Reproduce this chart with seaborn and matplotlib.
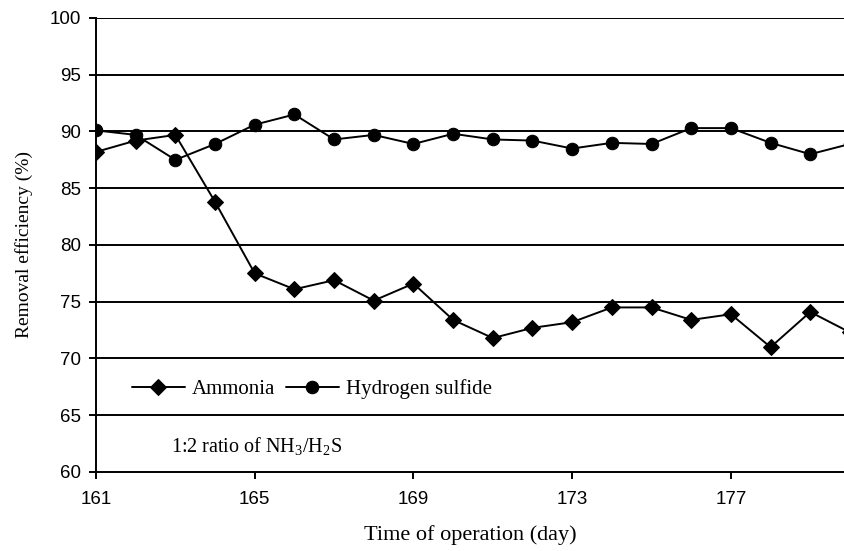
import pandas as pd
import matplotlib
matplotlib.use("Agg")
import matplotlib.pyplot as plt
import seaborn as sns

# Datos
dias = [161, 162, 163, 164, 165, 166, 167, 168, 169, 170,
        171, 172, 173, 174, 175, 176, 177, 178, 179, 180]
amonio = [88.2, 89.2, 89.7, 83.8, 77.5, 76.1, 76.9, 75.1, 76.6, 73.4,
          71.8, 72.7, 73.2, 74.5, 74.5, 73.4, 73.9, 71.0, 74.1, 72.3]
sulfuro = [90.1, 89.7, 87.5, 88.9, 90.6, 91.5, 89.3, 89.7, 88.9, 89.8,
           89.3, 89.2, 88.5, 89.0, 88.9, 90.3, 90.3, 89.0, 88.0, 88.9]
ticks_x = [161, 165, 169, 173, 177]
ticks_y = [60, 65, 70, 75, 80, 85, 90, 95, 100]

sns.set_style("white")
plt.rcParams['font.family'] = ['Liberation Serif', 'DejaVu Serif']
plt.rcParams['mathtext.fontset'] = 'custom'
plt.rcParams['mathtext.rm'] = 'Liberation Serif'
plt.rcParams['mathtext.it'] = 'Liberation Serif:italic'
plt.rcParams['text.color'] = 'black'
plt.rcParams['axes.labelcolor'] = 'black'

df = pd.DataFrame({'dia': dias, 'Ammonia': amonio, 'Hydrogen sulfide': sulfuro})

fig = plt.figure(figsize=(8.44, 5.51), dpi=100)
ax = fig.add_axes([96 / 844, 79 / 551, 748 / 844, 454 / 551])

for y in ticks_y[1:]:
    ax.axhline(y, color='black', lw=1.4, zorder=1)

sns.lineplot(data=df, x='dia', y='Ammonia', ax=ax, color='black', lw=1.4,
             marker='D', markersize=8, markeredgecolor='black', label='Ammonia',
             zorder=3)
sns.lineplot(data=df, x='dia', y='Hydrogen sulfide', ax=ax, color='black', lw=1.4,
             marker='o', markersize=9, markeredgecolor='black', label='Hydrogen sulfide',
             zorder=3)

ax.set_xlim(161, 179.85)
ax.set_ylim(60, 100)
ax.set_xticks(ticks_x)
ax.set_yticks(ticks_y)
for lbl in ax.get_xticklabels() + ax.get_yticklabels():
    lbl.set_family('Liberation Sans')
    lbl.set_fontsize(13.5)
ax.tick_params(axis='both', direction='out', length=5, width=1.4, color='black',
               labelcolor='black', bottom=True, left=True)
ax.tick_params(axis='x', pad=9)
ax.tick_params(axis='y', pad=6)

for s in ['top', 'right']:
    ax.spines[s].set_visible(False)
for s in ['left', 'bottom']:
    ax.spines[s].set_color('black')
    ax.spines[s].set_linewidth(1.4)

ax.set_xlabel('Time of operation (day)', fontsize=16, labelpad=12)
ax.set_ylabel('Removal efficiency (%)', fontsize=14, labelpad=12)

ax.legend(loc='center left', bbox_to_anchor=(0.048, 0.183), ncol=2, frameon=False,
          fontsize=15, handlelength=2.55, columnspacing=0.5, handletextpad=0.33,
          borderaxespad=0, borderpad=0)
ax.text(0.1, 0.057, r'1:2 ratio of NH$_3$/H$_2$S', transform=ax.transAxes,
        fontsize=14.5, ha='left', va='center')

fig.savefig('out.png', dpi=100)
plt.close(fig)
